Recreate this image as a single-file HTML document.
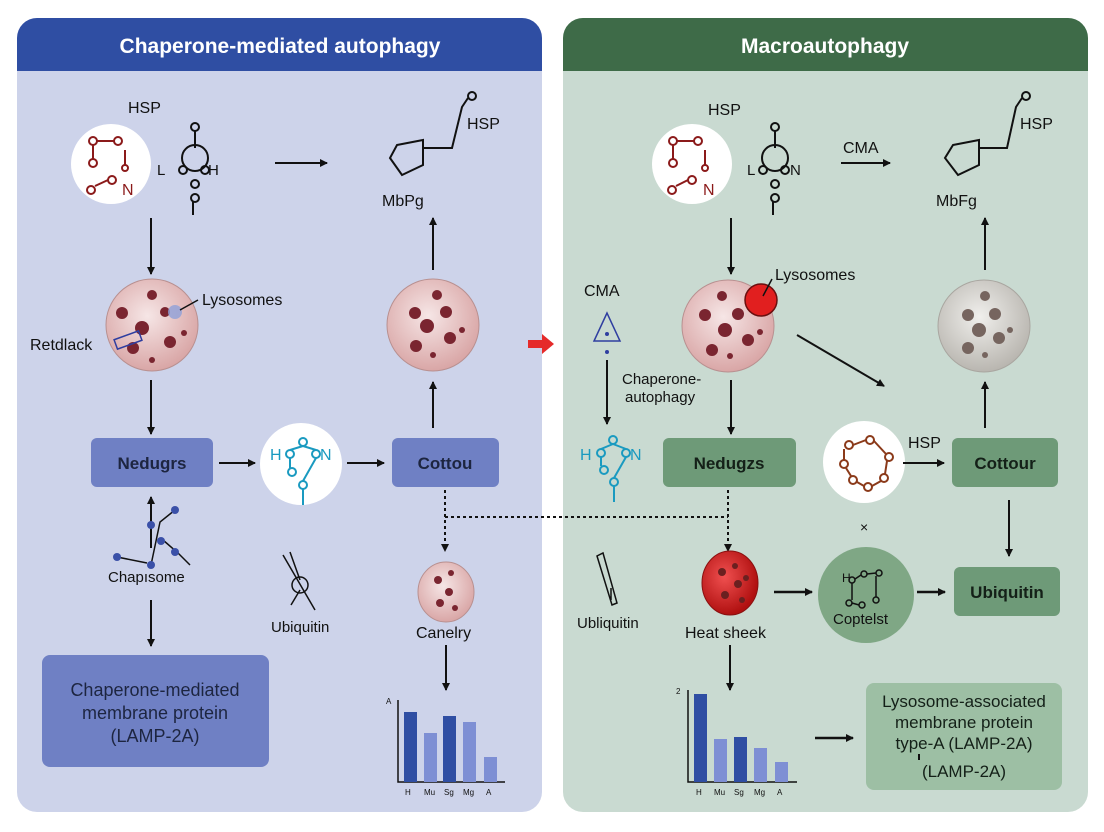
<!DOCTYPE html>
<html><head><meta charset="utf-8"><style>
html,body{margin:0;padding:0;background:#fff;}
svg{display:block;font-family:"Liberation Sans",Arial,sans-serif;}
</style></head><body>
<svg width="1104" height="832" viewBox="0 0 1104 832" xmlns="http://www.w3.org/2000/svg">
<defs>
<marker id="ah" markerWidth="8" markerHeight="8" refX="7" refY="4" orient="auto" markerUnits="userSpaceOnUse"><path d="M0,0 L8,4 L0,8z" fill="#111"/></marker>
<radialGradient id="lys" cx="45%" cy="40%" r="60%"><stop offset="0" stop-color="#f6e6e6"/><stop offset="1" stop-color="#d9a6a6"/></radialGradient>
<radialGradient id="gry" cx="45%" cy="40%" r="60%"><stop offset="0" stop-color="#f0efec"/><stop offset="1" stop-color="#b9b6b0"/></radialGradient>
<radialGradient id="red" cx="40%" cy="40%" r="60%"><stop offset="0" stop-color="#f05050"/><stop offset="1" stop-color="#b01010"/></radialGradient>
</defs>
<rect width="1104" height="832" fill="#fff"/>
<rect x="17" y="18" width="525" height="794" rx="20" fill="#cdd3ea"/>
<path d="M37,18 H522 A20,20 0 0 1 542,38 V71 H17 V38 A20,20 0 0 1 37,18z" fill="#2f4ea3"/>
<text x="280" y="53" text-anchor="middle" font-size="21" font-weight="bold" fill="#fff">Chaperone-mediated autophagy</text>
<rect x="563" y="18" width="525" height="794" rx="20" fill="#c9dad1"/>
<path d="M583,18 H1068 A20,20 0 0 1 1088,38 V71 H563 V38 A20,20 0 0 1 583,18z" fill="#3e6b48"/>
<text x="825" y="53" text-anchor="middle" font-size="21" font-weight="bold" fill="#fff">Macroautophagy</text>

<g font-size="16" fill="#111">
<text x="128" y="113">HSP</text>
<circle cx="111" cy="164" r="40" fill="#fff"/>
<g stroke="#8b1a1a" fill="none" stroke-width="2"><circle cx="93" cy="141" r="4"/><circle cx="118" cy="141" r="4"/><circle cx="93" cy="163" r="4"/><circle cx="91" cy="190" r="4"/><circle cx="112" cy="180" r="4"/><circle cx="125" cy="168" r="3"/><path d="M97,141 L114,141 M93,145 V159 M95,186 L108,180 M125,150 V165"/></g>
<text x="122" y="195" fill="#8b1a1a">N</text>
<g stroke="#111" fill="none" stroke-width="2"><circle cx="195" cy="127" r="4"/><path d="M195,131 V148"/><circle cx="195" cy="158" r="13"/><circle cx="183" cy="170" r="4"/><circle cx="205" cy="170" r="4"/><circle cx="195" cy="184" r="4"/><circle cx="195" cy="198" r="4"/><path d="M193,202 V215"/></g>
<text x="157" y="175" font-size="15">L</text><text x="208" y="175" font-size="15">H</text>
<line x1="275" y1="163" x2="327" y2="163" stroke="#111" stroke-width="2" marker-end="url(#ah)"/>
<g stroke="#111" fill="none" stroke-width="2"><path d="M397,145 L423,140 L423,165 L402,175 L390,158z M423,148 H452 L462,107 L468,98"/><circle cx="472" cy="96" r="4"/></g>
<text x="467" y="129">HSP</text>
<text x="382" y="206">MbPg</text>
<line x1="151" y1="218" x2="151" y2="274" stroke="#111" stroke-width="2" marker-end="url(#ah)"/>
<line x1="433" y1="270" x2="433" y2="218" stroke="#111" stroke-width="2" marker-end="url(#ah)"/>
<circle cx="152" cy="325" r="46" fill="url(#lys)" stroke="#b89090"/>
<g fill="#7a2530"><circle cx="122" cy="313" r="6"/><circle cx="152" cy="295" r="5"/><circle cx="142" cy="328" r="7"/><circle cx="165" cy="312" r="5"/><circle cx="170" cy="342" r="6"/><circle cx="133" cy="348" r="6"/><circle cx="184" cy="333" r="3"/><circle cx="152" cy="360" r="3"/></g>
<circle cx="175" cy="312" r="7" fill="#8fa0d8" opacity=".8"/>
<rect x="115" y="335" width="26" height="10" fill="none" stroke="#2f3ea0" stroke-width="1.5" transform="rotate(-20 128 340)"/>
<line x1="180" y1="310" x2="198" y2="300" stroke="#111" stroke-width="1.5"/>
<text x="202" y="305">Lysosomes</text>
<text x="30" y="350">Retdlack</text>
<circle cx="433" cy="325" r="46" fill="url(#lys)" stroke="#b89090"/>
<g fill="#7a2530"><circle cx="415" cy="313" r="6"/><circle cx="437" cy="295" r="5"/><circle cx="446" cy="312" r="6"/><circle cx="427" cy="326" r="7"/><circle cx="450" cy="338" r="6"/><circle cx="416" cy="346" r="6"/><circle cx="462" cy="330" r="3"/><circle cx="433" cy="355" r="3"/></g>
<line x1="151" y1="380" x2="151" y2="434" stroke="#111" stroke-width="2" marker-end="url(#ah)"/>
<line x1="433" y1="428" x2="433" y2="382" stroke="#111" stroke-width="2" marker-end="url(#ah)"/>
<rect x="91" y="438" width="122" height="49" rx="6" fill="#6f80c4"/>
<text x="152" y="469" text-anchor="middle" font-weight="bold" font-size="17" fill="#1d2540">Nedugrs</text>
<line x1="219" y1="463" x2="255" y2="463" stroke="#111" stroke-width="2" marker-end="url(#ah)"/>
<circle cx="301" cy="464" r="41" fill="#fff"/>
<g stroke="#1a9ac0" fill="none" stroke-width="2"><circle cx="303" cy="442" r="4"/><circle cx="290" cy="454" r="4"/><circle cx="316" cy="454" r="4"/><circle cx="292" cy="472" r="4"/><circle cx="303" cy="485" r="4"/><path d="M303,446 L290,450 M303,446 L316,450 M290,458 V468 M316,458 L303,481 M303,489 V505"/></g>
<text x="270" y="460" fill="#1a9ac0">H</text><text x="320" y="460" fill="#1a9ac0">N</text>
<line x1="347" y1="463" x2="384" y2="463" stroke="#111" stroke-width="2" marker-end="url(#ah)"/>
<rect x="392" y="438" width="107" height="49" rx="6" fill="#6f80c4"/>
<text x="445" y="469" text-anchor="middle" font-weight="bold" font-size="17" fill="#1d2540">Cottou</text>
<path d="M445,490 V548 M445,517 H728 M728,490 V548" stroke="#111" stroke-width="2" stroke-dasharray="3,3" fill="none"/>
<path d="M445,552 l-4,-8 h8z M728,552 l-4,-8 h8z" fill="#111"/>
<line x1="151" y1="548" x2="151" y2="497" stroke="#111" stroke-width="2" marker-end="url(#ah)"/>
<g stroke="#111" stroke-width="1.5" fill="none"><path d="M151,565 L160,522 L175,510 M117,557 L147,563 M163,540 L178,553 L190,565"/></g>
<g fill="#3a50a8"><circle cx="151" cy="565" r="4"/><circle cx="151" cy="525" r="4"/><circle cx="175" cy="510" r="4"/><circle cx="117" cy="557" r="4"/><circle cx="161" cy="541" r="4"/><circle cx="175" cy="552" r="4"/></g>
<text x="108" y="582" font-size="15">Chapısome</text>
<line x1="151" y1="600" x2="151" y2="646" stroke="#111" stroke-width="2" marker-end="url(#ah)"/>
<rect x="42" y="655" width="227" height="112" rx="8" fill="#6f80c4"/>
<text x="155" y="696" text-anchor="middle" font-size="18" fill="#1d2540">Chaperone-mediated</text>
<text x="155" y="719" text-anchor="middle" font-size="18" fill="#1d2540">membrane protein</text>
<text x="155" y="742" text-anchor="middle" font-size="18" fill="#1d2540">(LAMP-2A)</text>
<g stroke="#111" stroke-width="1.5" fill="none"><path d="M283,555 L315,610 M290,552 L300,580 M300,590 L291,605"/><circle cx="300" cy="585" r="8"/></g>
<text x="271" y="632" font-size="15">Ubiquitin</text>
<ellipse cx="446" cy="592" rx="28" ry="30" fill="url(#lys)" stroke="#b89090"/>
<g fill="#7a2530"><circle cx="438" cy="580" r="4"/><circle cx="451" cy="573" r="3"/><circle cx="449" cy="592" r="4"/><circle cx="440" cy="603" r="4"/><circle cx="455" cy="608" r="3"/></g>
<text x="416" y="638" font-size="16">Canelry</text>
<line x1="446" y1="645" x2="446" y2="690" stroke="#111" stroke-width="2" marker-end="url(#ah)"/>
<path d="M398,700 V782 H505" stroke="#111" stroke-width="1.5" fill="none"/>
<rect x="404" y="712" width="13" height="70" fill="#2f4ea3"/><rect x="424" y="733" width="13" height="49" fill="#7e8fd4"/><rect x="443" y="716" width="13" height="66" fill="#2f4ea3"/><rect x="463" y="722" width="13" height="60" fill="#7e8fd4"/><rect x="484" y="757" width="13" height="25" fill="#7e8fd4"/>
<g font-size="8"><text x="405" y="795">H</text><text x="424" y="795">Mu</text><text x="444" y="795">Sg</text><text x="463" y="795">Mg</text><text x="486" y="795">A</text><text x="386" y="704">A</text></g>
<path d="M528,340 H542 V334 L554,344 L542,354 V348 H528z" fill="#e52a2a"/>

<text x="708" y="115">HSP</text>
<circle cx="692" cy="164" r="40" fill="#fff"/>
<g stroke="#8b1a1a" fill="none" stroke-width="2"><circle cx="673" cy="141" r="4"/><circle cx="698" cy="141" r="4"/><circle cx="673" cy="163" r="4"/><circle cx="672" cy="190" r="4"/><circle cx="692" cy="180" r="4"/><circle cx="705" cy="168" r="3"/><path d="M677,141 L694,141 M673,145 V159 M676,186 L688,180 M705,150 V165"/></g>
<text x="703" y="195" fill="#8b1a1a">N</text>
<g stroke="#111" fill="none" stroke-width="2"><circle cx="775" cy="127" r="4"/><path d="M775,131 V148"/><circle cx="775" cy="158" r="13"/><circle cx="763" cy="170" r="4"/><circle cx="785" cy="170" r="4"/><circle cx="775" cy="184" r="4"/><circle cx="775" cy="198" r="4"/><path d="M773,202 V215"/></g>
<text x="747" y="175" font-size="15">L</text><text x="790" y="175" font-size="15">N</text>
<text x="843" y="153">CMA</text>
<line x1="841" y1="163" x2="890" y2="163" stroke="#111" stroke-width="2" marker-end="url(#ah)"/>
<g stroke="#111" fill="none" stroke-width="2"><path d="M953,145 L979,140 L979,165 L958,175 L945,158z M979,148 H1007 L1016,107 L1022,98"/><circle cx="1026" cy="96" r="4"/></g>
<text x="1020" y="129">HSP</text>
<text x="936" y="206">MbFg</text>
<line x1="731" y1="218" x2="731" y2="274" stroke="#111" stroke-width="2" marker-end="url(#ah)"/>
<line x1="985" y1="270" x2="985" y2="218" stroke="#111" stroke-width="2" marker-end="url(#ah)"/>
<text x="584" y="296">CMA</text>
<path d="M607,313 L594,341 L620,341z" fill="none" stroke="#2f3ea0" stroke-width="1.5"/>
<circle cx="607" cy="334" r="2" fill="#2f3ea0"/><circle cx="607" cy="352" r="2" fill="#2f3ea0"/>
<line x1="607" y1="360" x2="607" y2="424" stroke="#111" stroke-width="2" marker-end="url(#ah)"/>
<text x="622" y="384" font-size="15">Chaperone-</text><text x="625" y="402" font-size="15">autophagy</text>
<circle cx="728" cy="326" r="46" fill="url(#lys)" stroke="#b89090"/>
<g fill="#7a2530"><circle cx="705" cy="315" r="6"/><circle cx="722" cy="296" r="5"/><circle cx="738" cy="314" r="6"/><circle cx="725" cy="330" r="7"/><circle cx="748" cy="340" r="6"/><circle cx="712" cy="350" r="6"/><circle cx="760" cy="332" r="3"/><circle cx="730" cy="356" r="3"/></g>
<circle cx="761" cy="300" r="16" fill="#e11f1f" stroke="#6b0f0f" stroke-width="1.5"/>
<line x1="763" y1="296" x2="772" y2="279" stroke="#111" stroke-width="1.5"/>
<text x="775" y="280">Lysosomes</text>
<line x1="797" y1="335" x2="884" y2="386" stroke="#111" stroke-width="2" marker-end="url(#ah)"/>
<circle cx="984" cy="326" r="46" fill="url(#gry)" stroke="#a9a6a0"/>
<g fill="#76655f"><circle cx="968" cy="315" r="6"/><circle cx="985" cy="296" r="5"/><circle cx="995" cy="314" r="6"/><circle cx="979" cy="330" r="7"/><circle cx="999" cy="338" r="6"/><circle cx="968" cy="348" r="6"/><circle cx="1010" cy="330" r="3"/><circle cx="985" cy="355" r="3"/></g>
<line x1="731" y1="380" x2="731" y2="434" stroke="#111" stroke-width="2" marker-end="url(#ah)"/>
<line x1="985" y1="428" x2="985" y2="382" stroke="#111" stroke-width="2" marker-end="url(#ah)"/>
<g stroke="#1a9ac0" fill="none" stroke-width="2"><circle cx="613" cy="440" r="4"/><circle cx="601" cy="453" r="4"/><circle cx="626" cy="453" r="4"/><circle cx="604" cy="470" r="4"/><circle cx="614" cy="482" r="4"/><path d="M613,444 L601,449 M613,444 L626,449 M601,457 V466 M626,457 L614,478 M614,486 V502"/></g>
<text x="580" y="460" fill="#1a9ac0">H</text><text x="630" y="460" fill="#1a9ac0">N</text>
<rect x="663" y="438" width="133" height="49" rx="6" fill="#6e9a78"/>
<text x="729" y="469" text-anchor="middle" font-weight="bold" font-size="17" fill="#142018">Nedugzs</text>
<circle cx="864" cy="462" r="41" fill="#fff"/>
<g stroke="#8b3a1a" fill="none" stroke-width="2"><circle cx="849" cy="445" r="4"/><circle cx="870" cy="440" r="4"/><circle cx="889" cy="457" r="4"/><circle cx="844" cy="464" r="4"/><circle cx="853" cy="480" r="4"/><circle cx="868" cy="487" r="4"/><circle cx="884" cy="478" r="4"/><path d="M853,445 L866,440 M874,441 L886,454 M844,449 V460 M846,468 L851,476 M857,482 L864,486 M872,486 L881,481 M887,461 L885,474"/></g>
<text x="908" y="448">HSP</text>
<line x1="903" y1="463" x2="944" y2="463" stroke="#111" stroke-width="2" marker-end="url(#ah)"/>
<rect x="952" y="438" width="106" height="49" rx="6" fill="#6e9a78"/>
<text x="1005" y="469" text-anchor="middle" font-weight="bold" font-size="17" fill="#142018">Cottour</text>
<text x="860" y="532" font-size="14">×</text>
<line x1="1009" y1="500" x2="1009" y2="556" stroke="#111" stroke-width="2" marker-end="url(#ah)"/>
<g stroke="#111" stroke-width="1.5" fill="none"><path d="M597,556 L612,605 L617,603 L603,553z M611,588 V600"/></g>
<text x="577" y="628" font-size="15">Ubliquitin</text>
<ellipse cx="730" cy="583" rx="28" ry="32" fill="url(#red)" stroke="#8a1010"/>
<g fill="#6b2020"><circle cx="722" cy="572" r="4"/><circle cx="735" cy="566" r="3"/><circle cx="738" cy="584" r="4"/><circle cx="725" cy="595" r="4"/><circle cx="742" cy="600" r="3"/><circle cx="746" cy="578" r="3"/></g>
<text x="685" y="638" font-size="16">Heat sheek</text>
<line x1="774" y1="592" x2="812" y2="592" stroke="#111" stroke-width="2.5" marker-end="url(#ah)"/>
<ellipse cx="866" cy="595" rx="48" ry="48" fill="#7fa785"/>
<g stroke="#111" fill="none" stroke-width="1.5"><circle cx="852" cy="580" r="3"/><circle cx="864" cy="574" r="3"/><circle cx="879" cy="573" r="3"/><circle cx="849" cy="603" r="3"/><circle cx="862" cy="605" r="3"/><circle cx="876" cy="600" r="3"/><path d="M852,583 V600 M855,579 L861,575 M867,574 L876,573 M876,576 V597 M852,603 L859,605"/></g>
<text x="842" y="582" font-size="12">H</text>
<text x="833" y="624" font-size="15">Coptelst</text>
<line x1="917" y1="592" x2="945" y2="592" stroke="#111" stroke-width="2.5" marker-end="url(#ah)"/>
<rect x="954" y="567" width="106" height="49" rx="6" fill="#6e9a78"/>
<text x="1007" y="598" text-anchor="middle" font-weight="bold" font-size="17" fill="#142018">Ubiquitin</text>
<line x1="730" y1="645" x2="730" y2="690" stroke="#111" stroke-width="2" marker-end="url(#ah)"/>
<path d="M688,690 V782 H797" stroke="#111" stroke-width="1.5" fill="none"/>
<rect x="694" y="694" width="13" height="88" fill="#2f4ea3"/><rect x="714" y="739" width="13" height="43" fill="#7e8fd4"/><rect x="734" y="737" width="13" height="45" fill="#2f4ea3"/><rect x="754" y="748" width="13" height="34" fill="#7e8fd4"/><rect x="775" y="762" width="13" height="20" fill="#7e8fd4"/>
<g font-size="8"><text x="696" y="795">H</text><text x="714" y="795">Mu</text><text x="734" y="795">Sg</text><text x="754" y="795">Mg</text><text x="777" y="795">A</text><text x="676" y="694">2</text></g>
<line x1="815" y1="738" x2="853" y2="738" stroke="#111" stroke-width="2.5" marker-end="url(#ah)"/>
<rect x="866" y="683" width="196" height="107" rx="8" fill="#9dbfa4"/>
<text x="964" y="707" text-anchor="middle" font-size="17" fill="#142018">Lysosome-associated</text>
<text x="964" y="728" text-anchor="middle" font-size="17" fill="#142018">membrane protein</text>
<text x="964" y="749" text-anchor="middle" font-size="17" fill="#142018">type-A (LAMP-2A)</text>
<rect x="918" y="754" width="2" height="6" fill="#111"/>
<text x="964" y="777" text-anchor="middle" font-size="17" fill="#142018">(LAMP-2A)</text>
</g>
</svg>
</body></html>
